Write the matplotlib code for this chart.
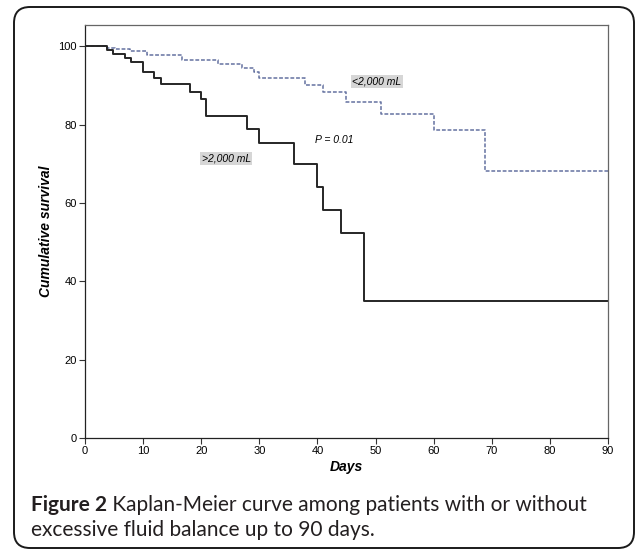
import numpy as np
import matplotlib
matplotlib.use("Agg")
import matplotlib.pyplot as plt
from matplotlib.patches import FancyBboxPatch

# ------------------------------- DATA -------------------------------------- #
# >2,000 mL group (solid line): event days and survival (%)
days_high = [0, 3.7, 4.9, 6.9, 8.0, 10.0, 11.9, 13.0, 18.0, 19.9, 20.8,
             27.8, 30.0, 36.0, 40.0, 41.0, 44.0, 48.0, 90]
surv_high = [100, 99.1, 98.1, 97.1, 96.0, 93.3, 92.0, 90.3, 88.4, 86.6, 82.3,
             78.9, 75.2, 69.9, 64.0, 58.2, 52.4, 35.0, 35.0]

# <2,000 mL group (dotted line)
days_low = [0, 3.8, 5.2, 7.7, 10.6, 16.7, 22.9, 27.0, 29.0, 29.9, 37.9,
            40.9, 44.9, 50.9, 60.0, 68.8, 90]
surv_low = [100, 99.6, 99.2, 98.8, 97.7, 96.4, 95.5, 94.5, 93.4, 92.0, 90.2,
            88.3, 85.7, 82.8, 78.7, 68.2, 68.2]

x_ticks = [0, 10, 20, 30, 40, 50, 60, 70, 80, 90]
y_ticks = [0, 20, 40, 60, 80, 100]

caption_bold = "Figure 2"
caption_rest = " Kaplan-Meier curve among patients with or without"
caption_line2 = "excessive fluid balance up to 90 days."

# ------------------------------ FIGURE ------------------------------------- #
fig = plt.figure(figsize=(6.35, 5.51), dpi=100)

# rounded outer frame
frame = FancyBboxPatch((0.14, 0.03), 6.20, 5.41,
                       boxstyle="round,pad=0,rounding_size=0.16",
                       transform=fig.dpi_scale_trans, fill=False,
                       edgecolor="#1a1a1a", linewidth=1.4, zorder=0)
fig.patches.append(frame)

ax = fig.add_axes([85 / 635, 1 - 438 / 551, 523 / 635, 413 / 551])

ax.plot(days_low, surv_low, drawstyle="steps-post", color="#6472a0",
        linestyle=(0, (2.5, 1.2)), linewidth=1.1)
ax.plot(days_high, surv_high, drawstyle="steps-post", color="#262626",
        linewidth=1.4)

ax.set_xlim(0, 90)
ax.set_ylim(0, 105.4)
ax.set_xticks(x_ticks)
ax.set_yticks(y_ticks)

tick_font = {"family": "Liberation Sans", "size": 8}
ax.set_xticklabels([str(v) for v in x_ticks], fontdict=tick_font)
ax.set_yticklabels([str(v) for v in y_ticks], fontdict=tick_font)
ax.tick_params(direction="out", length=4, width=0.8, pad=2, color="#333333")

for side in ["left", "bottom"]:
    ax.spines[side].set_color("#222222")
    ax.spines[side].set_linewidth(0.9)
for side in ["top", "right"]:
    ax.spines[side].set_color("#666666")
    ax.spines[side].set_linewidth(0.9)

ax.set_xlabel("Days", family="Liberation Sans", fontsize=10,
              fontweight="bold", fontstyle="italic", labelpad=3)
ax.set_ylabel("Cumulative survival", family="Liberation Sans", fontsize=10,
              fontweight="bold", fontstyle="italic", labelpad=4)

# group labels and p-value
box = dict(boxstyle="square,pad=0.15", facecolor="#d6d6d6", edgecolor="none")
ax.text(46.0, 90.9, "<2,000 mL", family="Liberation Sans", fontsize=7.5,
        fontstyle="italic", va="center", ha="left", bbox=box)
ax.text(20.1, 71.4, ">2,000 mL", family="Liberation Sans", fontsize=7.5,
        fontstyle="italic", va="center", ha="left", bbox=box)
ax.text(39.6, 76.0, "P = 0.01", family="Liberation Sans", fontsize=7.5,
        fontstyle="italic", va="center", ha="left")

# caption
cap_font = "Lato"
cap_size = 15
cap = fig.text(31 / 635, 1 - 505 / 551, caption_bold, family=cap_font,
               fontsize=cap_size, fontweight="bold", va="center", ha="left",
               color="#231f20")
fig.canvas.draw()
bb = cap.get_window_extent()
fig.text(bb.x1 / fig.bbox.width, 1 - 505 / 551, caption_rest,
         family=cap_font, fontsize=cap_size, va="center", ha="left",
         color="#231f20")
fig.text(31 / 635, 1 - 530 / 551, caption_line2, family=cap_font,
         fontsize=cap_size, va="center", ha="left", color="#231f20")

fig.savefig("out.png", dpi=100)
